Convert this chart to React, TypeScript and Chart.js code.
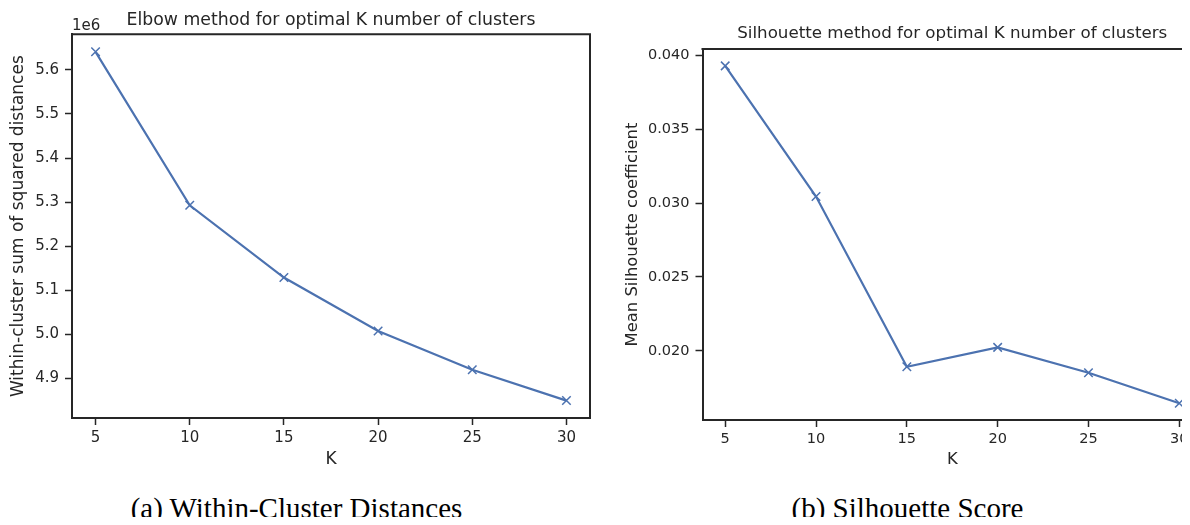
import React, { useEffect, useRef } from "react";
import { Chart, registerables } from "chart.js";

Chart.register(...registerables);

const kValues = [5, 10, 15, 20, 25, 30];
const wcssValues = [5641000, 5293000, 5129000, 5008000, 4920000, 4850000];
const silhouetteValues = [0.0393, 0.03045, 0.01892, 0.02023, 0.01851, 0.01645];
const kTicks = [5, 10, 15, 20, 25, 30];
const wcssTicks = [4900000, 5000000, 5100000, 5200000, 5300000, 5400000, 5500000, 5600000];
const silTicks = [0.02, 0.025, 0.03, 0.035, 0.04];

const leftTitle = "Elbow method for optimal K number of clusters";
const rightTitle = "Silhouette method for optimal K number of clusters";
const leftYLabel = "Within-cluster sum of squared distances";
const rightYLabel = "Mean Silhouette coefficient";
const xLabel = "K";
const leftCaption = "(a) Within-Cluster Distances";
const rightCaption = "(b) Silhouette Score";
const offsetText = "1e6";

const TEXT = "#262626";
const LINE = "#4C72B0";
const FONT = "DejaVu Sans";

const spinePlugin = {
  id: "spines",
  afterDraw(chart: any) {
    const { ctx, chartArea } = chart;
    const { left, right, top, bottom } = chartArea;
    ctx.save();
    ctx.strokeStyle = TEXT;
    ctx.lineWidth = 2;
    ctx.beginPath();
    ctx.moveTo(left - 1, top);
    ctx.lineTo(right, top);
    ctx.lineTo(right, bottom + 1);
    ctx.stroke();
    const off = chart.options.plugins.offsetText;
    if (off && off.text) {
      ctx.fillStyle = TEXT;
      ctx.font = `15px "${FONT}"`;
      ctx.textAlign = "left";
      ctx.textBaseline = "alphabetic";
      ctx.fillText(off.text, left, off.y);
    }
    ctx.restore();
  },
};

function makeConfig(opts: any) {
  const {
    values, yMin, yMax, yTicks, yFormat, title, titlePad, yLabel, yTitlePadTop,
    yWidth, xHeight, xMin, xMax, padRight, offset, tickSize, titleSize, labelSize,
  } = opts;
  return {
    type: "line",
    data: {
      datasets: [
        {
          data: kValues.map((k, i) => ({ x: k, y: values[i] })),
          borderColor: LINE,
          backgroundColor: LINE,
          borderWidth: 2.2,
          pointStyle: "crossRot",
          pointRadius: 6,
          pointBorderWidth: 1.5,
          pointBorderColor: LINE,
          tension: 0,
          fill: false,
        },
      ],
    },
    options: {
      responsive: false,
      animation: false,
      layout: { padding: { left: 0, right: padRight, top: 0, bottom: 0 } },
      plugins: {
        legend: { display: false },
        tooltip: { enabled: false },
        title: {
          display: true,
          fullSize: false,
          text: title,
          color: TEXT,
          font: { family: FONT, size: titleSize, weight: "normal", lineHeight: 1.2 },
          padding: titlePad,
        },
        offsetText: offset,
      },
      scales: {
        x: {
          type: "linear",
          min: xMin,
          max: xMax,
          afterBuildTicks: (s: any) => {
            s.ticks = kTicks.map((v) => ({ value: v }));
          },
          afterFit: (s: any) => {
            s.height = xHeight;
          },
          ticks: {
            color: TEXT,
            font: { family: FONT, size: tickSize, lineHeight: 1.2 },
            padding: 4,
            maxRotation: 0,
            autoSkip: false,
            callback: (v: any) => String(v),
          },
          grid: {
            display: true,
            drawOnChartArea: false,
            drawTicks: true,
            tickLength: 7,
            tickWidth: 1.5,
            tickColor: TEXT,
          },
          border: { display: true, color: TEXT, width: 2 },
          title: {
            display: true,
            text: xLabel,
            color: TEXT,
            font: { family: FONT, size: labelSize, lineHeight: 1.2 },
            padding: { top: 0, bottom: 10 },
          },
        },
        y: {
          type: "linear",
          min: yMin,
          max: yMax,
          afterBuildTicks: (s: any) => {
            s.ticks = yTicks.map((v: number) => ({ value: v }));
          },
          afterFit: (s: any) => {
            s.width = yWidth;
          },
          ticks: {
            color: TEXT,
            font: { family: FONT, size: tickSize, lineHeight: 1.2 },
            padding: 6,
            autoSkip: false,
            callback: (v: any) => yFormat(v),
          },
          grid: {
            display: true,
            drawOnChartArea: false,
            drawTicks: true,
            tickLength: 7,
            tickWidth: 1.5,
            tickColor: TEXT,
          },
          border: { display: true, color: TEXT, width: 2 },
          title: {
            display: true,
            text: yLabel,
            color: TEXT,
            font: { family: FONT, size: labelSize, lineHeight: 1.2 },
            padding: { top: yTitlePadTop, bottom: 0 },
          },
        },
      },
    },
    plugins: [spinePlugin],
  } as any;
}

export default function App() {
  const leftRef = useRef<HTMLCanvasElement>(null);
  const rightRef = useRef<HTMLCanvasElement>(null);

  useEffect(() => {
    const left = new Chart(
      leftRef.current as HTMLCanvasElement,
      makeConfig({
        values: wcssValues,
        yMin: 4810500,
        yMax: 5680600,
        yTicks: wcssTicks,
        yFormat: (v: number) => (v / 1e6).toFixed(1),
        title: leftTitle,
        titlePad: { top: 10, bottom: 3.6 },
        yLabel: leftYLabel,
        yTitlePadTop: 8,
        yWidth: 72,
        xHeight: 62,
        xMin: 3.75,
        xMax: 31.25,
        padRight: 10,
        offset: { text: offsetText, y: 30 },
        tickSize: 15,
        titleSize: 17.3,
        labelSize: 17,
      })
    );
    const right = new Chart(
      rightRef.current as HTMLCanvasElement,
      makeConfig({
        values: silhouetteValues,
        yMin: 0.01531,
        yMax: 0.04044,
        yTicks: silTicks,
        yFormat: (v: number) => v.toFixed(3),
        title: rightTitle,
        titlePad: { top: 24, bottom: 5 },
        yLabel: rightYLabel,
        yTitlePadTop: 22.5,
        yWidth: 102.5,
        xHeight: 60,
        xMin: 3.75,
        xMax: 31.25,
        padRight: 18,
        offset: null,
        tickSize: 14.5,
        titleSize: 16.7,
        labelSize: 16.4,
      })
    );
    return () => {
      left.destroy();
      right.destroy();
    };
  }, []);

  const captionStyle: React.CSSProperties = {
    position: "absolute",
    top: 494,
    width: 600,
    transform: "translateX(-50%)",
    textAlign: "center",
    fontFamily: '"Liberation Serif", "Times New Roman", serif',
    fontSize: 29,
    lineHeight: "29px",
    color: "#000",
    whiteSpace: "nowrap",
  };

  return (
    <div
      style={{
        position: "relative",
        width: 1190,
        height: 525,
        margin: -8,
        overflow: "hidden",
        background: "#fff",
      }}
    >
      <canvas
        ref={leftRef}
        width={600}
        height={480}
        style={{ position: "absolute", left: 0, top: 0, width: 600, height: 480 }}
      />
      <canvas
        ref={rightRef}
        width={620}
        height={480}
        style={{ position: "absolute", left: 600, top: 0, width: 620, height: 480 }}
      />
      <div style={{ ...captionStyle, left: 296.5 }}>{leftCaption}</div>
      <div style={{ ...captionStyle, left: 907.5 }}>{rightCaption}</div>
    </div>
  );
}
